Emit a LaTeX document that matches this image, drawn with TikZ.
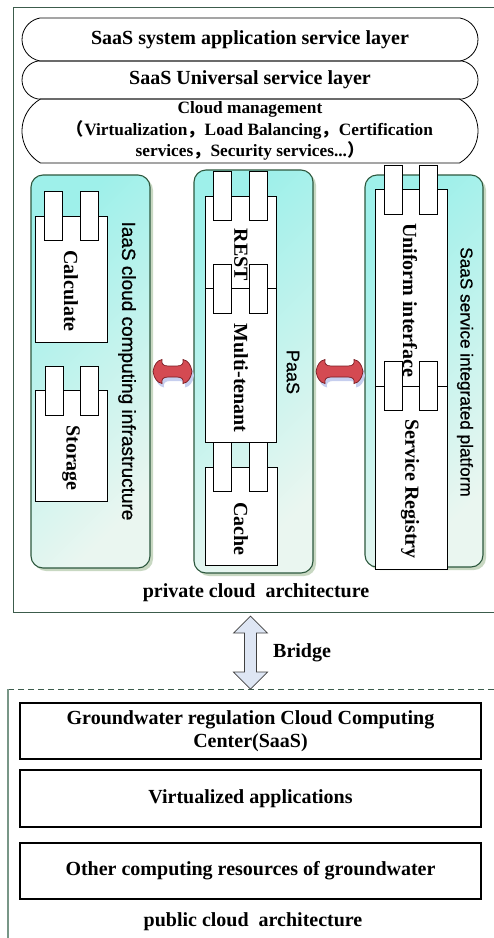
\documentclass[tikz,border=0pt]{standalone}
\usepackage{fontspec}
\setmainfont{Liberation Serif}
\newfontfamily\lsans[FakeBold=0.7]{Liberation Sans}
\newfontfamily\cjk{Noto Sans CJK SC}
\usetikzlibrary{shapes.misc,shadows,calc}

\definecolor{tealA}{RGB}{158,240,234}
\definecolor{tealB}{RGB}{234,246,240}
\definecolor{colborder}{RGB}{45,88,62}
\definecolor{colshadow}{RGB}{200,216,194}
\definecolor{framegreen}{RGB}{60,92,76}
\definecolor{publine}{RGB}{120,150,135}
\definecolor{bonered}{RGB}{212,74,82}
\definecolor{bonedark}{RGB}{120,28,34}
\definecolor{boneshadow}{RGB}{198,206,238}
\definecolor{bridgefill}{RGB}{222,230,244}

\tikzset{
  every node/.style={inner sep=0pt},
  lbl/.style={font=\fontsize{20}{23}\selectfont\bfseries, align=center},
  small/.style={font=\fontsize{17.3}{21.5}\selectfont\bfseries, align=center},
  rot/.style={lbl, rotate=-90},
  pill/.style={rounded rectangle, draw, line width=0.8pt, minimum width=456,
    rounded rectangle arc length=160},
  privframe/.style={draw=framegreen, line width=1.2pt},
  column/.style={draw=colborder, line width=1.1pt, rounded corners=12pt,
    top color=tealA, bottom color=tealB, shading angle=45,
    drop shadow={shadow xshift=3pt, shadow yshift=-3pt, fill=colshadow, opacity=1}},
  collabel/.style={rotate=-90, font=\lsans\fontsize{#1}{#1}\selectfont},
  comp/.style={draw, fill=white, line width=0.8pt},
  tab/.style={comp, minimum width=18, minimum height=49},
  bone/.style={fill=bonered, draw=bonedark, line width=0.7pt},
  blockarrow/.style={draw=black!75, fill=bridgefill, line width=0.7pt},
  pubbox/.style={lbl, draw, line width=1.2pt, minimum width=461, minimum height=56},
}

% bone-shaped double arrow between two x positions at height #3 (absolute pt)
\newcommand\bonebody[3]{%
 ({#1},{#3}) .. controls ({#1+1pt},{#3+7pt}) and ({#1+4pt},{#3+11pt}) .. ({#1+9pt},{#3+12pt})
 .. controls ({#1+8pt},{#3+8pt}) and ({#1+10pt},{#3+5.5pt}) .. ({#1+15pt},{#3+5.5pt})
 -- ({#2-15pt},{#3+5.5pt})
 .. controls ({#2-10pt},{#3+5.5pt}) and ({#2-8pt},{#3+8pt}) .. ({#2-9pt},{#3+12pt})
 .. controls ({#2-4pt},{#3+11pt}) and ({#2-1pt},{#3+7pt}) .. ({#2},{#3})
 .. controls ({#2-1pt},{#3-7pt}) and ({#2-4pt},{#3-11pt}) .. ({#2-9pt},{#3-12pt})
 .. controls ({#2-8pt},{#3-8pt}) and ({#2-10pt},{#3-5.5pt}) .. ({#2-15pt},{#3-5.5pt})
 -- ({#1+15pt},{#3-5.5pt})
 .. controls ({#1+10pt},{#3-5.5pt}) and ({#1+8pt},{#3-8pt}) .. ({#1+9pt},{#3-12pt})
 .. controls ({#1+4pt},{#3-11pt}) and ({#1+1pt},{#3-7pt}) .. ({#1},{#3})
 -- cycle}
\newcommand\bonelink[2]{%
  \fill[boneshadow] let \p1=($(#1.east)+(2.5,0)$), \p2=($(#2.west)+(-1.5,0)$) in
    \bonebody{\x1+2pt}{\x2+2pt}{\y1-4pt};
  \draw[bone] let \p1=($(#1.east)+(2.5,0)$), \p2=($(#2.west)+(-1.5,0)$) in
    \bonebody{\x1}{\x2}{\y1};
}

\begin{document}
\begin{tikzpicture}[x=1pt,y=-1pt]
\useasboundingbox (0,0) rectangle (494,938);

% private cloud frame (runs off the right edge)
\node[privframe, anchor=north west, minimum width=520, minimum height=605] (private) at (13,7) {};

% service layers
\node[pill, minimum height=64, rounded rectangle arc length=120, small] (mgmt) at (250,131)
  {Cloud management\\{\cjk （}Virtualization{\cjk ，}Load Balancing{\cjk ，}Certification\\services{\cjk ，}Security services...{\cjk ）}};
\node[pill, minimum height=38, lbl] (univ) at (250,80) {SaaS Universal service layer};
\node[pill, minimum height=43, lbl] (sysapp) at (250,39.5) {SaaS system application service layer};

% three platform columns
\node[column, minimum width=119, minimum height=393] (iaas) at (90.5,371.5) {};
\node[column, minimum width=119, minimum height=403] (paas) at (253.5,371.5) {};
\node[column, minimum width=118, minimum height=392] (saas) at (424,371) {};

% IaaS components
\node[comp, minimum width=72, minimum height=126] (calc) at (71,279) {};
\node[tab] (calcT1) at (53,215.5) {};
\node[tab] (calcT2) at (89,215.5) {};
\node[rot] (calcL) at (71,291) {Calculate};
\node[comp, minimum width=72, minimum height=111] (stor) at (71,445.5) {};
\node[tab] (storT1) at (54,390.5) {};
\node[tab] (storT2) at (89,390.5) {};
\node[rot] (storL) at (71,458) {Storage};
\node[collabel=19] (iaasL) at (127,371) {IaaS cloud computing infrastructure};

% PaaS components
\node[comp, minimum width=71, minimum height=92] (rest) at (240.5,242) {};
\node[comp, minimum width=71, minimum height=154] (multi) at (240.5,365) {};
\node[comp, minimum width=72, minimum height=98] (cache) at (241,516) {};
\node[tab] (restT1) at (222.5,195.5) {};
\node[tab] (restT2) at (258,195.5) {};
\node[tab] (multiT1) at (222.5,289) {};
\node[tab] (multiT2) at (258,289) {};
\node[tab] (cacheT1) at (222.5,467) {};
\node[tab] (cacheT2) at (258.5,467) {};
\node[rot] (restL) at (241,255) {REST};
\node[rot] (multiL) at (241,378) {Multi-tenant};
\node[rot] (cacheL) at (241,529) {Cache};
\node[collabel=18] (paasL) at (293,372) {PaaS};

% SaaS components
\node[comp, minimum width=72, minimum height=197] (unif) at (411,287.5) {};
\node[comp, minimum width=72, minimum height=183] (reg) at (411,477.5) {};
\node[tab] (unifT1) at (393,189.5) {};
\node[tab] (unifT2) at (428.5,189.5) {};
\node[tab] (regT1) at (393,385.5) {};
\node[tab] (regT2) at (428.5,385.5) {};
\node[rot] (unifL) at (410,300) {Uniform interface};
\node[rot] (regL) at (410,489) {Service Registry};
\node[collabel=17.2] (saasL) at (465,372) {SaaS service integrated platform};

% links between the columns
\bonelink{iaas}{paas}
\bonelink{paas}{saas}

\node[lbl] (privL) at (256,593) {private cloud\ \ architecture};

% public cloud frame
\coordinate (pubcorner) at (8,689);
\draw[framegreen, line width=1pt, dash pattern=on 6pt off 4pt] (pubcorner) -- (500,689);
\draw[publine, line width=1.3pt] (pubcorner) -- (8,945);

% bridge between private and public cloud: double block arrow
\coordinate (bridgeTop) at (250.5,616);
\coordinate (bridgeBot) at (250.5,689);
\draw[blockarrow] (bridgeTop) -- ++(17,17) -- ++(-11,0) -- ++(0,39) -- ++(11,0)
  -- (bridgeBot) -- ++(-17,-17) -- ++(11,0) -- ++(0,-39) -- ++(-11,0) -- cycle;
\node[lbl, anchor=west] (bridgeL) at (273,653) {Bridge};

\node[pubbox] (gw) at (250.5,731) {Groundwater regulation Cloud Computing\\Center(SaaS)};
\node[pubbox, minimum height=57] (virt) at (250.5,798.5) {Virtualized applications};
\node[pubbox] (other) at (250.5,871) {Other computing resources of groundwater};
\node[lbl] (pubL) at (253,922) {public cloud\ \ architecture};
\end{tikzpicture}
\end{document}
